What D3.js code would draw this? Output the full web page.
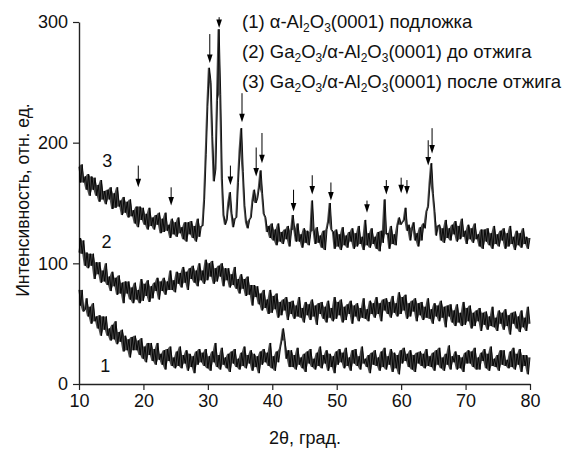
<!DOCTYPE html>
<html><head><meta charset="utf-8">
<script src="https://cdn.jsdelivr.net/npm/d3@7/dist/d3.min.js"></script>
<style>body{margin:0;background:#fff}svg{display:block}</style>
</head><body>
<script>
// 2θ sampling grid (degrees), 0.25° step from 10 to 80
const twoTheta = d3.range(0, 281).map(i => 10 + i * 0.25);

// (1) α-Al2O3(0001) substrate
const curve1 = [
78,65,78,60, 62,71,56,64, 50,67,52,56, 46,57,40,56, 45,56,40,46,
36,49,37,52, 33,43,35,45, 27,40,28,37, 22,39,28,40, 28,36,24,38,
21,31,18,34, 24,34,19,29, 16,34,20,25, 16,28,12,29, 19,31,15,22,
13,27,15,31, 13,24,17,28, 11,25,14,23, 9,27,16,29, 18,26,15,29,
13,23,11,27, 18,34,14,24, 12,30,16,22, 13,25,10,27, 17,29,14,21,
12,26,15,31, 13,24,17,28, 11,25,14,23, 9,27,16,29, 18,26,15,34,
13,23,11,27, 18,29,36,46, 36,21,28,14, 28,14,24,12, 30,16,22,13,
25,10,27,17, 29,14,21,12, 26,15,31,13, 24,17,28,11, 25,14,23,9,
27,16,29,18, 26,13,30,15, 22,11,28,17, 29,15,23,12, 31,17,21,14,
24,9,26,16, 28,15,22,11, 27,14,30,12, 23,16,29,10, 26,13,24,8,
28,17,30,19, 25,14,28,12, 24,10,26,17, 27,15,25,13, 29,15,23,14,
26,11,28,16, 30,13,22,11, 25,16,32,12, 23,18,27,12, 24,13,22,10,
26,17,28,17, 27,14,30,12, 22,12,26,19, 29,13,25,11, 31,15,21,14,
24,11,28,16, 28,15,20,13, 27,14,30,12, 25,16,29,10, 24,15,24,8,
22];

// (2) Ga2O3/α-Al2O3(0001) before annealing
const curve2 = [
109,121,108,119, 98,109,96,108, 98,108,87,101, 91,101,84,94, 85,100,82,89,
77,93,81,88, 74,90,75,84, 67,85,75,85, 70,80,67,84, 70,78,67,87,
69,83,73,86, 68,81,71,84, 77,88,70,85, 77,88,74,85, 78,94,78,86,
76,93,83,92, 80,97,84,93, 78,96,87,98, 84,94,81,100, 86,94,83,103,
86,100,89,102, 83,96,85,98, 89,100,81,96, 86,96,80,91, 82,97,79,87,
75,91,79,87, 73,89,74,82, 65,82,72,81, 66,75,61,78, 63,70,58,78,
59,73,62,75, 55,68,57,70, 61,72,53,68, 58,69,54,65, 56,72,55,63,
51,68,57,66, 53,70,56,65, 49,67,58,68, 54,64,51,69, 55,63,52,72,
54,68,57,70, 51,64,53,66, 58,69,50,65, 56,67,52,63, 55,71,54,62,
52,69,58,67, 55,72,58,67, 52,70,61,71, 58,68,55,73, 59,67,56,76,
58,72,61,74, 54,67,56,69, 60,71,52,67, 57,68,53,64, 55,71,54,62,
50,67,56,65, 52,69,55,64, 47,65,56,66, 51,61,48,66, 51,59,48,68,
49,63,52,65, 46,59,48,61, 52,63,44,59, 49,60,45,56, 48,64,47,55,
44,61,50,59, 45,62,48,57, 41,59,50,60, 46,56,43,61, 47,55,44,64,
50];

// (3) Ga2O3/α-Al2O3(0001) after annealing
const curve3 = [
180,167,182,167, 172,161,174,156, 172,161,171,156, 165,151,169,153, 160,149,161,153,
163,145,158,146, 163,147,152,140, 155,142,151,138, 153,139,144,133, 147,130,147,136,
146,132,141,128, 146,131,138,128, 140,132,142,125, 137,126,142,127, 132,121,137,124,
134,122,138,125, 130,120,134,118, 134,124,135,121, 131,118,137,122, 131,131,153,190,
230,262,250,205, 168,178,235,294, 240,170,140,132, 136,150,159,141, 130,137,138,167,
193,212,176,148, 134,129,136,138, 152,161,150,154, 163,177,158,141, 138,126,131,121,
133,119,128,115, 133,118,126,116, 128,120,131,114, 127,140,128,118, 133,118,124,113,
129,117,127,115, 126,152,127,116, 130,117,123,113, 127,111,128,135, 150,128,126,112,
128,114,124,111, 130,115,123,113, 126,118,129,112, 125,114,131,116, 122,111,136,115,
125,113,129,116, 122,112,126,110, 127,117,153,124, 125,112,131,116, 124,115,132,138,
132,134,136,146, 127,132,119,129, 134,119,125,114, 130,119,133,129, 143,147,167,183,
158,143,123,131, 132,119,129,117, 136,121,129,119, 132,124,135,118, 131,120,137,122,
127,116,132,120, 129,117,133,120, 124,114,128,112, 128,118,129,115, 125,112,131,116,
124,114,127,119, 129,112,125,114, 131,116,122,111, 127,115,125,113, 129,116,122,112,
121];

// Peak markers on curve 3: 2θ position, arrow tail and tip intensities
const arrowAngles = [19.2, 24.3, 30.3, 31.75, 33.5, 35.3, 37.5, 38.4, 43.3, 46.2, 49.1, 54.7, 57.7, 60.0, 60.9, 64.2, 64.8];
const arrowTop    = [181, 163, 290, 304, 181, 241, 196, 208, 161, 173, 167, 152, 169, 171, 169, 202, 212];
const arrowTip    = [163, 148, 266, 295, 165, 217, 172, 183, 143, 157, 152, 142, 157, 158, 157, 181, 191];

const xMajorTicks = [10, 20, 30, 40, 50, 60, 70, 80];
const xMinorTicks = d3.range(10, 81, 1);
const yMajorTicks = [0, 100, 200, 300];
const yMinorTicks = [50, 150, 250];

const curveLabels = [{t: "3", x: 13.6, y: 180}, {t: "2", x: 13.5, y: 113}, {t: "1", x: 13.3, y: 10}];

const W = 571, H = 450;
const FONT = "'Liberation Sans', Arial, sans-serif";
const svg = d3.select("body").append("svg").attr("width", W).attr("height", H)
  .style("font-family", FONT);

const x = d3.scaleLinear().domain([10, 80]).range([79, 530]);
const y = d3.scaleLinear().domain([0, 300]).range([384, 22]);

const axisColor = "#222";

// X axis
const gx = svg.append("g").attr("transform", `translate(0,${y(0)})`);
gx.call(d3.axisBottom(x).tickValues(xMinorTicks).tickSize(3).tickFormat(""));
gx.call(d3.axisBottom(x).tickValues(xMajorTicks).tickSize(6).tickSizeOuter(0).tickPadding(4).tickFormat(d3.format("d")));
gx.selectAll("path.domain").attr("stroke", axisColor).attr("stroke-width", 1.4);
gx.selectAll("line").attr("stroke", axisColor).attr("stroke-width", 1.2);
gx.selectAll("text").attr("font-size", 18).attr("fill", "#111").attr("font-family", FONT);

// Y axis
const gy = svg.append("g").attr("transform", `translate(${x(10)},0)`);
gy.call(d3.axisLeft(y).tickValues(yMinorTicks).tickSize(3).tickFormat(""));
gy.call(d3.axisLeft(y).tickValues(yMajorTicks).tickSize(6).tickSizeOuter(0).tickPadding(5).tickFormat(d3.format("d")));
gy.selectAll("path.domain").attr("stroke", axisColor).attr("stroke-width", 1.4);
gy.selectAll("line").attr("stroke", axisColor).attr("stroke-width", 1.2);
gy.selectAll("text").attr("font-size", 18).attr("fill", "#111").attr("font-family", FONT);

// Curves: a filled band spanning each pair of neighbouring samples, plus the trace itself
const line = d3.line().x((d, i) => x(twoTheta[i])).y(d => y(d));
[curve1, curve2, curve3].forEach(c => {
  const band = d3.area()
    .x((d, i) => x(twoTheta[i]))
    .y0((d, i) => y(Math.min(d, c[Math.min(i + 1, c.length - 1)])))
    .y1((d, i) => y(Math.max(d, c[Math.min(i + 1, c.length - 1)])));
  svg.append("path").datum(c).attr("d", band).attr("fill", "#000").attr("fill-opacity", 0.7);
  svg.append("path").datum(c).attr("d", line)
    .attr("fill", "none").attr("stroke", "#000").attr("stroke-width", 0.9);
});

// Arrows
const ag = svg.append("g");
arrowAngles.forEach((a, i) => {
  const ax = x(a), y0 = y(arrowTop[i]), y1 = y(arrowTip[i]);
  ag.append("line").attr("x1", ax).attr("x2", ax).attr("y1", y0).attr("y2", y1 - 4)
    .attr("stroke", "#000").attr("stroke-width", 1);
  ag.append("path").attr("d", `M${ax - 2.8},${y1 - 8.5}L${ax + 2.8},${y1 - 8.5}L${ax},${y1}Z`)
    .attr("fill", "#000");
});

// Curve labels
curveLabels.forEach(l => {
  svg.append("text").attr("x", x(l.x)).attr("y", y(l.y)).attr("font-size", 18)
    .attr("fill", "#111").text(l.t);
});

// Legend
const legend = [
  [["(1) α-Al"], ["2", 1], ["O"], ["3", 1], ["(0001) подложка"]],
  [["(2) Ga"], ["2", 1], ["O"], ["3", 1], ["/α-Al"], ["2", 1], ["O"], ["3", 1], ["(0001) до отжига"]],
  [["(3) Ga"], ["2", 1], ["O"], ["3", 1], ["/α-Al"], ["2", 1], ["O"], ["3", 1], ["(0001) после отжига"]]
];
legend.forEach((parts, r) => {
  const t = svg.append("text").attr("x", 242).attr("y", 28 + r * 30).attr("font-size", 18.5).attr("fill", "#111");
  let sub = false;
  parts.forEach(p => {
    const ts = t.append("tspan").text(p[0]);
    if (p[1]) { ts.attr("font-size", 12).attr("dy", sub ? 0 : 4); sub = true; }
    else { if (sub) ts.attr("dy", -4); sub = false; }
  });
});

// Axis titles
svg.append("text").attr("x", 305).attr("y", 444).attr("text-anchor", "middle")
  .attr("font-size", 18).attr("fill", "#111").text("2θ, град.");
svg.append("text").attr("transform", "translate(29,200) rotate(-90)").attr("text-anchor", "middle")
  .attr("font-size", 17.5).attr("fill", "#111").text("Интенсивность, отн. ед.");
</script>
</body></html>
